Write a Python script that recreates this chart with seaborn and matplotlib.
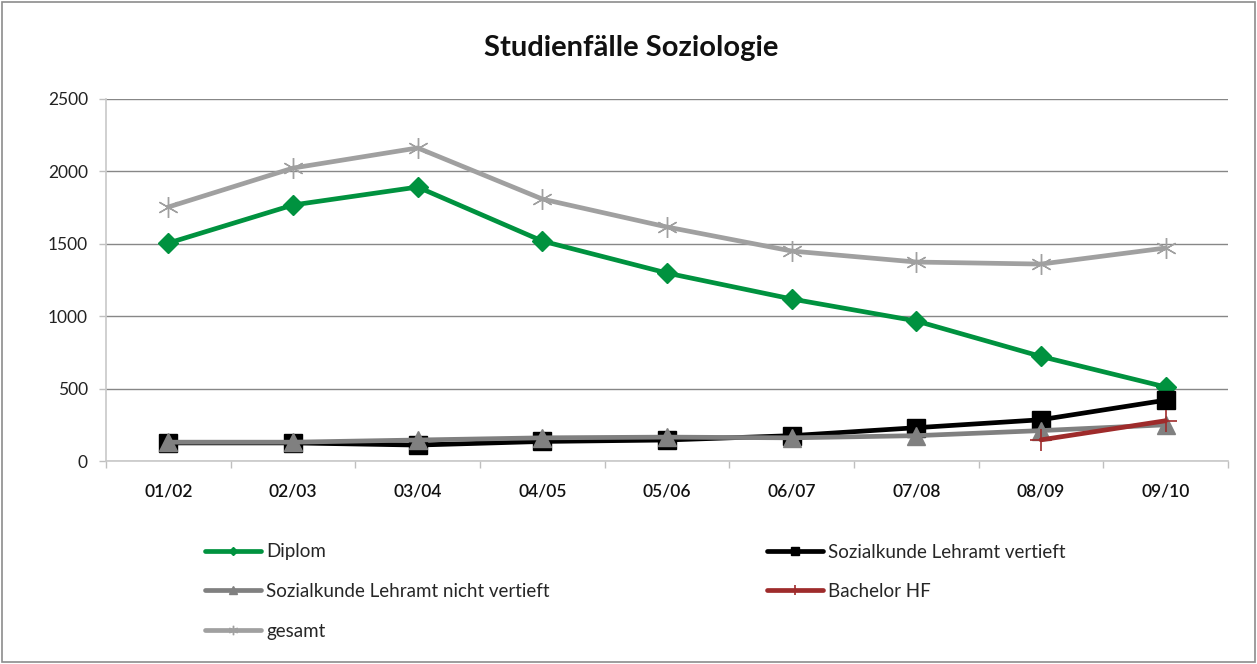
import numpy as np
import seaborn as sns
import matplotlib.pyplot as plt
from matplotlib.patches import Rectangle

# Semesters on the x axis
semester = ['01/02', '02/03', '03/04', '04/05', '05/06', '06/07', '07/08', '08/09', '09/10']

# Values
diplom = [1505, 1768, 1892, 1519, 1298, 1119, 967, 722, 511]
lehramt_vertieft = [125, 125, 110, 135, 145, 175, 230, 285, 420]
lehramt_nicht_vertieft = [130, 130, 145, 160, 165, 160, 175, 210, 250]
bachelor_hf = [np.nan, np.nan, np.nan, np.nan, np.nan, np.nan, np.nan, 146, 278]
gesamt = [1754, 2023, 2162, 1809, 1616, 1450, 1374, 1360, 1471]

y_ticks = [0, 500, 1000, 1500, 2000, 2500]

sns.set_style('white')
plt.rcParams['font.family'] = ['Lato', 'DejaVu Sans']

fig = plt.figure(figsize=(12.57, 6.64), dpi=100)
ax = fig.add_axes([106 / 1257, 1 - 461 / 664, 1122 / 1257, 362 / 664])

# series: label, values, colour, marker, marker size, marker edge width
series = [
    ('Diplom', diplom, '#00923F', 'D', 10, 1),
    ('Sozialkunde Lehramt vertieft', lehramt_vertieft, '#000000', 's', 13, 1),
    ('Sozialkunde Lehramt nicht vertieft', lehramt_nicht_vertieft, '#808080', '^', 13, 1),
    ('Bachelor HF', bachelor_hf, '#9E2B2B', '+', 16, 1.2),
    ('gesamt', gesamt, '#A0A0A0', (6, 2, 0), 15, 1.0),
]

lines = {}
for label, vals, col, mk, ms, mew in series:
    sns.lineplot(x=semester, y=vals, ax=ax, color=col, marker=mk, markersize=ms,
                 markeredgewidth=mew, markeredgecolor=col, linewidth=3.4,
                 sort=False, label=label, legend=False)
    lines[label] = ax.get_lines()[-1]

ax.set_xlim(-0.5, len(semester) - 0.5)
ax.set_ylim(0, 2500)
ax.set_yticks(y_ticks)
ax.set_yticklabels([str(v) for v in y_ticks], fontsize=12.5, color='#222222')
ax.set_xticks(range(len(semester)))
ax.set_xticklabels(semester, fontsize=12.5, color='#111111', fontweight='semibold')
ax.set_xticks(np.arange(-0.5, len(semester), 1), minor=True)
ax.tick_params(axis='x', which='major', length=0, pad=16)
ax.tick_params(axis='x', which='minor', length=5, color='#BFBFBF', width=1, bottom=True)
ax.tick_params(axis='y', length=5, color='#BFBFBF', width=1, left=True, pad=8)
ax.set_xlabel('')
ax.set_ylabel('')

ax.grid(axis='y', color='#878787', linewidth=1)
ax.grid(axis='x', visible=False)
for side in ['top', 'right']:
    ax.spines[side].set_visible(False)
for side in ['left', 'bottom']:
    ax.spines[side].set_color('#C8C8C8')
    ax.spines[side].set_linewidth(1.2)

fig.text(631 / 1257, 1 - 48 / 664, 'Studienfälle Soziologie', ha='center', va='center',
         fontsize=21, fontweight='bold', color='#111111')

# legend in two columns, filled row by row like the original
leg_kw = dict(frameon=False, fontsize=13.5, handlelength=3.0, handletextpad=0.3,
              labelspacing=1.2, markerscale=0.45, loc='upper left', borderaxespad=0)
left_labels = ['Diplom', 'Sozialkunde Lehramt nicht vertieft', 'gesamt']
right_labels = ['Sozialkunde Lehramt vertieft', 'Bachelor HF']
leg1 = fig.legend([lines[l] for l in left_labels], left_labels,
                  bbox_to_anchor=(197 / 1257, 1 - 536 / 664), **leg_kw)
leg2 = fig.legend([lines[l] for l in right_labels], right_labels,
                  bbox_to_anchor=(759 / 1257, 1 - 536 / 664), **leg_kw)

# outer chart border
fig.patches.append(Rectangle((0.0015, 0.003), 0.997, 0.994, transform=fig.transFigure,
                             fill=False, edgecolor='#8C8C8C', linewidth=1.2))

fig.savefig('out.png', dpi=100)
